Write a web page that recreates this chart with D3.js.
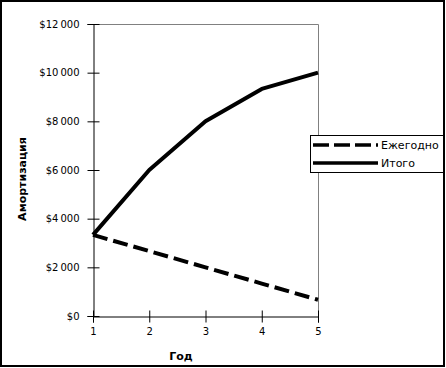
<!DOCTYPE html>
<html>
<head>
    <style>
        body { margin: 0; background: #fff; }
        text { font-family: "DejaVu Sans", Verdana, sans-serif; }
    </style>
    <script src="https://d3js.org/d3.v7.min.js"></script>
</head>
<body>
    <svg width="446" height="368"></svg>
    <script>
        // данные
        var years = [1, 2, 3, 4, 5];
        var annual = [3333, 2667, 2000, 1333, 667];     // Ежегодно
        var total = [3333, 6000, 8000, 9333, 10000];    // Итого
        var yTicks = [0, 2000, 4000, 6000, 8000, 10000, 12000];
        var seriesNames = ["Ежегодно", "Итого"];

        var svg = d3.select("svg");

        // внешняя рамка
        svg.append("rect")
            .attr("x", 1).attr("y", 1)
            .attr("width", 443).attr("height", 365)
            .attr("fill", "#fff")
            .attr("stroke", "#000")
            .attr("stroke-width", 2);

        var plotLeft = 93, plotRight = 318, plotTop = 24, plotBottom = 316;

        var x = d3.scaleLinear().domain([1, 5]).range([plotLeft, plotRight]);
        var y = d3.scaleLinear().domain([0, 12000]).range([plotBottom, plotTop]);

        // серая рамка области построения (верх и право)
        svg.append("path")
            .attr("d", "M" + plotLeft + "," + (plotTop + 0.5) + "H" + (plotRight + 0.5) + "V" + plotBottom)
            .attr("fill", "none")
            .attr("stroke", "#808080");

        var fmt = function(d) {
            var s = d3.format(",")(d).replace(/,/g, "\u2009");
            return "$" + s;
        };

        var yAxis = svg.append("g")
            .attr("transform", "translate(" + (plotLeft + 0.5) + ",0)")
            .call(d3.axisLeft(y).tickValues(yTicks).tickSize(6).tickFormat(fmt));
        yAxis.selectAll(".tick line").attr("x1", 6);
        yAxis.selectAll("text").attr("x", -14).attr("font-size", 10).attr("fill", "#000");
        yAxis.select(".domain").attr("stroke", "#000");
        yAxis.selectAll(".tick line").attr("stroke", "#000");

        var xAxis = svg.append("g")
            .attr("transform", "translate(0," + (plotBottom + 0.5) + ")")
            .call(d3.axisBottom(x).tickValues(years).tickSize(6).tickFormat(d3.format("d")));
        xAxis.selectAll(".tick line").attr("y1", -6);
        xAxis.selectAll("text").attr("y", 11).attr("font-size", 10).attr("fill", "#000");
        xAxis.select(".domain").attr("stroke", "#000");
        xAxis.selectAll(".tick line").attr("stroke", "#000");

        var line = d3.line()
            .x(function(d, i) { return x(years[i]); })
            .y(function(d) { return y(d); });

        svg.append("path")
            .datum(annual)
            .attr("d", line)
            .attr("fill", "none")
            .attr("stroke", "#000")
            .attr("stroke-width", 4)
            .attr("stroke-dasharray", "15,6");

        svg.append("path")
            .datum(total)
            .attr("d", line)
            .attr("fill", "none")
            .attr("stroke", "#000")
            .attr("stroke-width", 4)
            .attr("stroke-linejoin", "round");

        // подписи осей
        svg.append("text")
            .attr("transform", "translate(26,179) rotate(-90)")
            .attr("text-anchor", "middle")
            .attr("font-size", 11)
            .attr("font-weight", "bold")
            .text("Амортизация");

        svg.append("text")
            .attr("x", 181).attr("y", 360)
            .attr("text-anchor", "middle")
            .attr("font-size", 11)
            .attr("font-weight", "bold")
            .text("Год");

        // легенда
        var lg = svg.append("g");
        lg.append("rect")
            .attr("x", 310.5).attr("y", 135.5)
            .attr("width", 133).attr("height", 37)
            .attr("fill", "#fff")
            .attr("stroke", "#000");

        var items = lg.selectAll(".item")
            .data(seriesNames)
            .enter().append("g")
            .attr("transform", function(d, i) { return "translate(0," + (145 + i * 18) + ")"; });

        items.append("line")
            .attr("x1", 313).attr("x2", 378)
            .attr("stroke", "#000")
            .attr("stroke-width", 3.5)
            .attr("stroke-dasharray", function(d, i) { return i === 0 ? "16,5" : null; });

        items.append("text")
            .attr("x", 381).attr("y", 4)
            .attr("font-size", 11)
            .text(function(d) { return d; });
    </script>
</body>
</html>
